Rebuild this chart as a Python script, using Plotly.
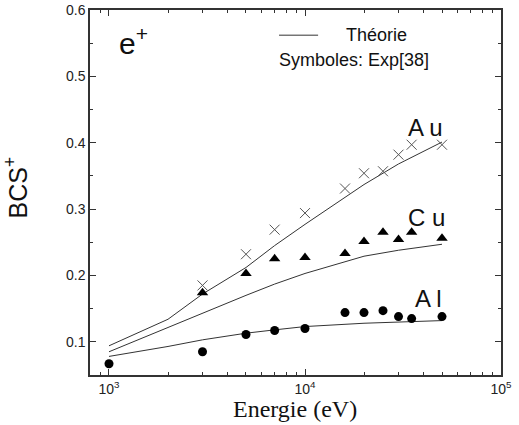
import numpy as np
import plotly.graph_objects as go

# Experimental data (symbols)
E_exp_au = [3000, 5000, 7000, 10000, 16000, 20000, 25000, 30000, 35000, 50000]
bcs_au = [0.185, 0.232, 0.269, 0.294, 0.331, 0.354, 0.357, 0.382, 0.397, 0.397]
E_exp_cu = [3000, 5000, 7000, 10000, 16000, 20000, 25000, 30000, 35000, 50000]
bcs_cu = [0.174, 0.203, 0.225, 0.227, 0.233, 0.251, 0.265, 0.254, 0.265, 0.256]
E_exp_al = [1000, 3000, 5000, 7000, 10000, 16000, 20000, 25000, 30000, 35000, 50000]
bcs_al = [0.067, 0.085, 0.111, 0.117, 0.120, 0.144, 0.144, 0.147, 0.138, 0.135, 0.138]

# Theory curves
E_th = [1000, 2000, 3000, 5000, 7000, 10000, 20000, 30000, 50000]
th_au = [0.094, 0.134, 0.172, 0.212, 0.245, 0.277, 0.337, 0.368, 0.401]
th_cu = [0.085, 0.122, 0.143, 0.170, 0.187, 0.203, 0.229, 0.238, 0.247]
th_al = [0.078, 0.093, 0.103, 0.113, 0.118, 0.123, 0.128, 0.130, 0.132]

x_tickvals = [1e3, 1e4, 1e5]
x_ticktext = ["10<sup>3</sup>", "10<sup>4</sup>", "10<sup>5</sup>"]
y_tickvals = [0.1, 0.2, 0.3, 0.4, 0.5, 0.6]
y_ticktext = ["0.1", "0.2", "0.3", "0.4", "0.5", "0.6"]

FONT = "Arial, Liberation Sans, sans-serif"
SERIF = "Times New Roman, Liberation Serif, serif"
LC = "#333333"

fig = go.Figure()
for th in (th_au, th_cu, th_al):
    fig.add_trace(go.Scatter(x=E_th, y=th, mode="lines",
                             line=dict(color=LC, width=1), showlegend=False))

fig.add_trace(go.Scatter(x=E_exp_au, y=bcs_au, mode="markers", showlegend=False,
                         marker=dict(symbol="x-thin", size=10, color="#555555",
                                     line=dict(color="#555555", width=1))))
fig.add_trace(go.Scatter(x=E_exp_cu, y=bcs_cu, mode="markers", showlegend=False,
                         marker=dict(symbol="triangle-up", size=10, color="black")))
fig.add_trace(go.Scatter(x=E_exp_al, y=bcs_al, mode="markers", showlegend=False,
                         marker=dict(symbol="circle", size=9, color="black")))

minor_x = [m * 10 ** d for d in (2, 3, 4) for m in range(2, 10)]

fig.update_xaxes(type="log", range=[np.log10(800), 5], automargin=False,
                 tickvals=x_tickvals, ticktext=x_ticktext,
                 ticks="inside", ticklen=6, tickcolor="#333", tickwidth=1,
                 showline=True, linecolor="#333", linewidth=1.5, mirror="ticks",
                 showgrid=False, zeroline=False,
                 tickfont=dict(family=FONT, size=14, color="#222"),
                 minor=dict(tickvals=minor_x, ticks="inside", ticklen=3,
                            tickcolor="#333", showgrid=False))
fig.update_yaxes(range=[0.05, 0.6], automargin=False,
                 tickvals=y_tickvals, ticktext=y_ticktext,
                 ticks="inside", ticklen=6, tickcolor="#333", tickwidth=1,
                 showline=True, linecolor="#333", linewidth=1.5, mirror="ticks",
                 showgrid=False, zeroline=False,
                 tickfont=dict(family=FONT, size=14, color="#222"),
                 minor=dict(dtick=0.05, tick0=0.05, ticks="inside", ticklen=3,
                            tickcolor="#333", showgrid=False))

ann_font = dict(family=FONT, size=24, color="#111")
leg_font = dict(family=FONT, size=18, color="#111")
annotations = [
    dict(xref="paper", yref="paper", x=0.066, y=0.915, text="e<sup>+</sup>",
         showarrow=False, xanchor="left", yanchor="middle",
         font=dict(family=FONT, size=30, color="#111")),
    dict(xref="paper", yref="paper", x=0.618, y=0.931, text="Théorie",
         showarrow=False, xanchor="left", yanchor="middle", font=leg_font),
    dict(xref="paper", yref="paper", x=0.456, y=0.862, text="Symboles: Exp[38]",
         showarrow=False, xanchor="left", yanchor="middle", font=leg_font),
    dict(xref="paper", yref="paper", x=0.770, y=0.677, text="A u",
         showarrow=False, xanchor="left", yanchor="middle", font=ann_font),
    dict(xref="paper", yref="paper", x=0.770, y=0.432, text="C u",
         showarrow=False, xanchor="left", yanchor="middle", font=ann_font),
    dict(xref="paper", yref="paper", x=0.786, y=0.210, text="A l",
         showarrow=False, xanchor="left", yanchor="middle", font=ann_font),
    # axis titles
    dict(xref="paper", yref="paper", x=0.498, y=-0.093, text="Energie (eV)",
         showarrow=False, xanchor="center", yanchor="middle",
         font=dict(family=SERIF, size=24, color="#111")),
    dict(xref="paper", yref="paper", x=-0.179, y=0.515, text="BCS<sup>+</sup>",
         showarrow=False, xanchor="center", yanchor="middle", textangle=-90,
         font=dict(family=FONT, size=25, color="#111")),
]

fig.update_layout(
    width=519, height=425,
    margin=dict(l=90, r=18, t=10, b=50),
    paper_bgcolor="white", plot_bgcolor="white",
    annotations=annotations,
    shapes=[dict(type="line", xref="paper", yref="paper",
                 x0=0.460, x1=0.555, y0=0.931, y1=0.931,
                 line=dict(color=LC, width=1))],
)

fig.write_html("out.html")
